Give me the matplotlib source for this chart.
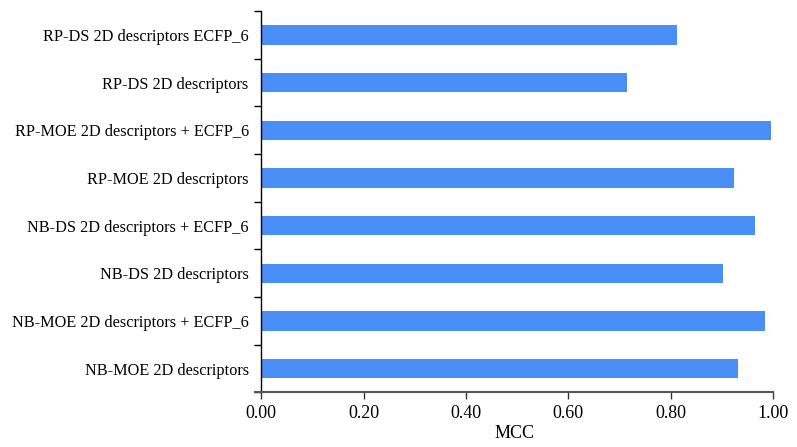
import matplotlib.pyplot as plt
import numpy as np

# categories from bottom to top
labels = [
    "NB-MOE 2D descriptors",
    "NB-MOE 2D descriptors + ECFP_6",
    "NB-DS 2D descriptors",
    "NB-DS 2D descriptors + ECFP_6",
    "RP-MOE 2D descriptors",
    "RP-MOE 2D descriptors + ECFP_6",
    "RP-DS 2D descriptors",
    "RP-DS 2D descriptors ECFP_6",
]
mcc = [0.932, 0.984, 0.902, 0.965, 0.924, 0.996, 0.715, 0.812]
xticks = [0.0, 0.2, 0.4, 0.6, 0.8, 1.0]

plt.rcParams['font.family'] = ['Liberation Serif', 'DejaVu Serif']

fig = plt.figure(figsize=(7.97, 4.47), dpi=100)
ax = fig.add_axes([0.320, 0.122, 0.650, 0.853])

y = np.arange(len(labels))
ax.barh(y, mcc, height=0.4, color='#4a8ff5')

ax.set_xlim(-0.012, 1.0)
ax.set_ylim(-0.5, len(labels) - 0.5)

ax.set_yticks(y)
ax.set_yticklabels(labels)
ax.set_yticks(np.arange(len(labels) + 1) - 0.5, minor=True)
ax.tick_params(axis='y', which='major', length=0, pad=9, labelsize=11.7)
ax.tick_params(axis='y', which='minor', length=5, width=1, color='black')

ax.set_xticks(xticks)
ax.set_xticklabels([f"{v:.2f}" for v in xticks])
ax.tick_params(axis='x', length=5, width=1, color='#333333', pad=4)
ax.set_xlabel("MCC", fontsize=13, labelpad=2)

for lbl in ax.get_xticklabels():
    lbl.set_fontsize(13)

for s in ['top', 'right']:
    ax.spines[s].set_visible(False)
ax.spines['left'].set_position(('data', 0))
ax.spines['left'].set_linewidth(1.0)
ax.spines['bottom'].set_color('#555555')
ax.spines['bottom'].set_linewidth(1.5)

plt.savefig("out.png", dpi=100)
